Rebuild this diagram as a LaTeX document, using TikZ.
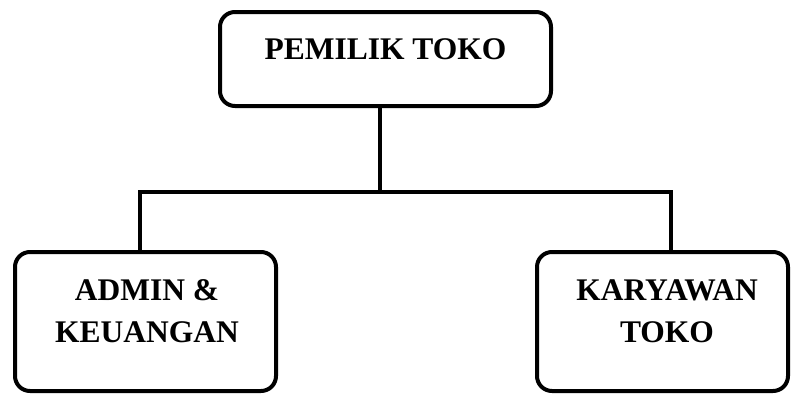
\documentclass[tikz,border=0pt]{standalone}
\usepackage{fontspec}
\setmainfont{Liberation Serif}
\begin{document}
\begin{tikzpicture}[x=1pt,y=-1pt,
  box/.style={draw=black,line width=4pt,rounded corners=15pt,inner sep=0pt},
  lbl/.style={font=\fontsize{31.5}{42}\selectfont\bfseries,align=center,inner sep=0pt},
  conn/.style={draw=black,line width=4pt}]
\useasboundingbox (0,0) rectangle (792,394);
\node[box,minimum width=331pt,minimum height=94pt] (top) at (385.5,59) {};
\node[box,minimum width=261pt,minimum height=139pt] (left) at (145.5,321.5) {};
\node[box,minimum width=251pt,minimum height=139pt] (right) at (662.5,321.5) {};
\node[lbl,anchor=base] (ttop) at (385.5,59) {PEMILIK TOKO};
\node[lbl,anchor=base] (tleft1) at (147,300) {ADMIN \&};
\node[lbl,anchor=base] (tleft2) at (147,342) {KEUANGAN};
\node[lbl,anchor=base] (tright1) at (667,300) {KARYAWAN};
\node[lbl,anchor=base] (tright2) at (667,342) {TOKO};
\coordinate (j) at (380,192);
\coordinate (jl) at (140,192);
\coordinate (jr) at (671,192);
\draw[conn] (top.south -| j) -- (j);
\draw[conn] (left.north -| jl) -- (jl) -- (jr) -- (right.north -| jr);
\end{tikzpicture}
\end{document}
